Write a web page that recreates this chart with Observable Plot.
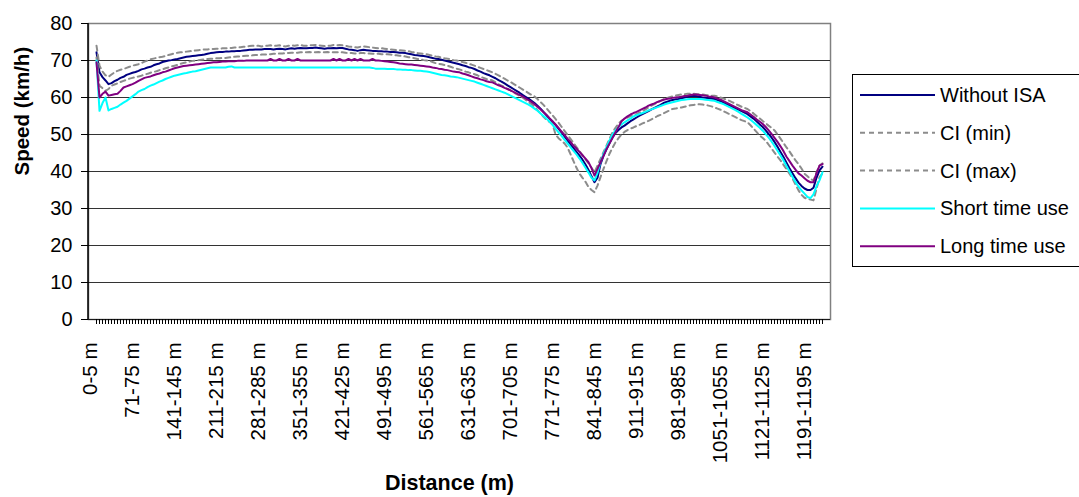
<!DOCTYPE html>
<html><head><meta charset="utf-8">
<script src="https://cdn.jsdelivr.net/npm/d3@7"></script>
<script src="https://cdn.jsdelivr.net/npm/@observablehq/plot@0.6"></script>
<style>
body{margin:0;background:#fff;}
#chart{position:relative;width:1079px;height:497px;overflow:hidden;}
</style></head><body><div id="chart"></div>
<script>
// 5 m distance bins: "0-5 m", "6-10 m", ... (243 bins)
const nBins = 243;
const categories = Array.from({length: nBins}, (_, i) => i === 0 ? "0-5 m" : `${5*i+1}-${5*i+5} m`);
const tickLabels = ["0-5 m","71-75 m","141-145 m","211-215 m","281-285 m","351-355 m","421-425 m","491-495 m","561-565 m","631-635 m","701-705 m","771-775 m","841-845 m","911-915 m","981-985 m","1051-1055 m","1121-1125 m","1191-1195 m"];
const yTicks = [0,10,20,30,40,50,60,70,80];

const withoutISA = [
72.2,66.8,65.5,64.6,63.6,63.9,64.4,64.8,65.3,65.6,
66.1,66.4,66.7,66.9,67.2,67.6,67.8,68.1,68.3,68.7,
69.0,69.2,69.6,69.8,70.0,70.1,70.3,70.4,70.6,70.8,
71.0,71.1,71.2,71.3,71.4,71.5,71.6,71.8,72.0,72.1,
72.2,72.3,72.3,72.4,72.4,72.5,72.5,72.6,72.6,72.7,
72.8,72.9,72.9,73.0,73.0,73.0,73.1,73.1,73.1,73.0,
73.1,73.2,73.1,73.0,73.2,73.3,73.2,73.3,73.4,73.3,
73.3,73.4,73.4,73.5,73.4,73.3,73.2,73.3,73.3,73.4,
73.3,73.4,73.4,73.2,73.0,72.9,72.8,72.6,72.8,72.9,
72.8,72.7,72.6,72.6,72.5,72.5,72.4,72.4,72.3,72.3,
72.2,72.1,72.1,72.0,71.8,71.7,71.5,71.4,71.3,71.2,
71.1,70.9,70.7,70.5,70.4,70.2,70.0,69.8,69.6,69.4,
69.2,69.0,68.7,68.5,68.2,68.0,67.7,67.3,67.0,66.6,
66.3,66.0,65.6,65.2,64.7,64.3,63.8,63.3,62.8,62.3,
61.8,61.3,60.7,60.2,59.7,59.1,58.5,57.8,57.0,56.1,
55.2,54.3,53.5,52.6,51.6,50.6,49.5,48.4,47.3,46.3,
45.3,44.3,43.2,41.9,40.4,38.7,37.1,38.3,42.0,44.2,
46.0,47.6,49.2,50.4,51.2,51.9,52.4,53.0,53.6,54.1,
54.6,55.1,55.5,55.9,56.3,56.8,57.2,57.6,58.0,58.5,
58.8,59.1,59.3,59.5,59.6,59.8,60.0,60.2,60.4,60.5,
60.4,60.2,60.0,59.9,59.8,59.7,59.6,59.3,59.0,58.6,
58.2,57.9,57.5,57.1,56.7,56.3,55.9,55.5,54.9,54.3,
53.6,52.8,52.1,51.2,50.2,49.2,48.0,46.7,45.3,43.9,
42.4,40.9,39.5,38.2,37.0,36.1,35.4,35.0,35.0,35.6,
38.3,40.3,41.3];

const ciMin = [
70.8,63.2,62.5,61.8,62.3,63.2,63.5,63.8,64.2,64.5,
64.8,65.1,65.3,65.5,65.7,65.9,66.2,66.4,66.7,66.9,
67.1,67.4,67.6,67.9,68.1,68.4,68.6,68.8,69.1,69.3,
69.5,69.7,69.9,70.0,70.1,70.2,70.3,70.4,70.5,70.5,
70.6,70.6,70.7,70.7,70.8,70.9,71.0,71.1,71.1,71.2,
71.3,71.3,71.4,71.5,71.5,71.6,71.6,71.7,71.7,71.8,
71.8,71.9,71.9,72.0,72.0,72.1,72.1,72.1,72.2,72.2,
72.2,72.3,72.2,72.2,72.3,72.2,72.2,72.3,72.2,72.2,
72.2,72.3,72.2,72.1,72.0,72.0,71.9,71.9,72.0,72.0,
71.9,71.9,71.8,71.8,71.8,71.7,71.7,71.7,71.6,71.5,
71.4,71.3,71.2,71.1,70.9,70.8,70.6,70.4,70.3,70.1,
70.0,69.9,69.6,69.3,69.1,69.0,68.8,68.6,68.3,68.0,
67.8,67.6,67.3,67.0,66.8,66.5,66.3,66.0,65.6,65.3,
65.0,64.8,64.6,64.1,63.6,63.2,62.8,62.3,61.9,61.4,
60.9,60.5,60.0,59.4,58.8,58.2,57.5,56.6,55.7,54.8,
54.0,53.4,52.9,50.0,49.0,48.3,47.6,46.5,44.7,42.8,
41.0,39.4,38.3,37.2,35.8,35.0,34.4,36.2,38.5,40.7,
42.8,44.8,46.4,47.9,49.0,50.0,50.7,51.2,51.6,51.9,
52.3,52.6,53.0,53.3,53.7,54.1,54.5,55.0,55.3,55.7,
56.1,56.5,56.9,57.0,57.2,57.3,57.5,57.7,57.9,58.0,
58.1,58.2,58.1,58.0,57.8,57.6,57.3,57.0,56.7,56.3,
55.9,55.5,55.1,54.7,54.3,53.9,53.6,53.3,52.5,51.6,
50.7,49.8,49.1,48.4,47.3,46.2,45.1,44.0,43.0,41.8,
40.6,39.4,38.1,36.5,34.9,33.7,32.9,32.6,32.4,32.2,
35.3,38.5,39.5];

const ciMax = [
74.0,68.6,67.0,66.0,65.6,66.2,66.8,67.2,67.5,67.7,
68.0,68.3,68.6,68.8,69.0,69.3,69.7,70.0,70.3,70.5,
70.7,70.9,71.0,71.2,71.5,71.7,71.9,72.1,72.2,72.3,
72.4,72.5,72.6,72.7,72.8,72.9,73.0,73.0,73.1,73.1,
73.2,73.2,73.3,73.3,73.4,73.4,73.5,73.5,73.6,73.7,
73.8,73.9,74.0,73.9,74.0,73.8,73.9,74.0,74.1,73.9,
74.0,74.1,73.9,73.8,74.0,74.1,74.0,74.1,74.2,74.0,
74.0,74.1,74.1,74.2,74.1,74.0,73.9,74.0,74.0,74.2,
74.1,74.2,74.1,74.0,73.8,73.7,73.6,73.5,73.7,73.8,
73.7,73.6,73.5,73.4,73.3,73.3,73.2,73.1,73.0,72.9,
72.8,72.8,72.7,72.6,72.5,72.3,72.2,72.0,71.9,71.8,
71.7,71.5,71.3,71.1,71.0,70.8,70.6,70.5,70.3,70.1,
70.0,69.9,69.6,69.4,69.1,68.9,68.6,68.3,68.0,67.7,
67.4,67.1,66.8,66.4,66.0,65.5,65.1,64.6,64.2,63.7,
63.2,62.7,62.2,61.7,61.2,60.7,60.3,59.6,58.8,58.0,
57.1,56.1,55.2,54.2,53.2,52.1,51.0,49.9,48.8,47.7,
46.6,45.5,44.4,43.3,42.2,41.0,39.8,41.6,43.4,45.2,
47.0,48.8,50.6,51.8,53.0,53.7,54.2,54.6,55.0,55.1,
55.5,55.9,56.3,56.8,57.3,57.8,58.2,58.7,59.1,59.5,
59.8,60.1,60.3,60.5,60.7,60.8,60.9,61.0,61.0,61.0,
60.9,60.9,60.8,60.7,60.6,60.5,60.5,60.3,60.0,59.7,
59.4,59.1,58.7,58.3,57.9,57.5,57.2,56.9,56.3,55.7,
55.0,54.4,53.7,53.1,52.4,51.8,51.1,50.0,48.9,47.7,
46.5,45.4,44.2,43.0,42.0,40.8,39.4,38.7,38.0,37.6,
39.8,41.6,42.2];

const shortTimeUse = [
70.0,56.4,58.5,60.0,56.5,56.9,57.2,57.5,58.1,58.6,
59.1,59.7,60.3,60.9,61.6,62.0,62.3,62.8,63.2,63.5,
63.9,64.3,64.6,65.0,65.3,65.6,65.9,66.1,66.3,66.5,
66.6,66.8,67.0,67.1,67.3,67.5,67.7,67.9,68.1,68.1,
68.1,68.1,68.1,68.1,68.3,68.4,68.1,68.1,68.1,68.1,
68.1,68.1,68.1,68.1,68.1,68.1,68.1,68.1,68.1,68.1,
68.1,68.1,68.1,68.1,68.1,68.1,68.1,68.1,68.1,68.1,
68.1,68.1,68.1,68.1,68.1,68.1,68.1,68.1,68.1,68.1,
68.1,68.1,68.1,68.1,68.1,68.1,68.1,68.1,68.1,68.1,
68.1,68.1,68.0,67.8,67.8,67.8,67.8,67.7,67.7,67.7,
67.6,67.6,67.5,67.5,67.4,67.4,67.3,67.2,67.2,67.1,
67.0,66.9,66.7,66.5,66.3,66.1,66.0,65.9,65.7,65.6,
65.5,65.3,65.1,64.9,64.7,64.5,64.3,64.0,63.7,63.4,
63.1,62.8,62.5,62.2,61.9,61.6,61.3,60.9,60.5,60.1,
59.7,59.3,58.9,58.5,58.1,57.6,57.0,56.4,55.7,55.0,
54.3,53.5,52.6,51.6,50.6,49.6,48.6,47.6,46.6,45.6,
44.6,43.5,42.3,41.0,39.7,38.3,37.6,39.6,42.5,44.8,
46.6,48.4,50.0,51.1,52.0,52.7,53.3,53.8,54.3,54.9,
55.2,55.5,55.8,56.1,56.5,56.8,57.1,57.4,57.7,58.0,
58.3,58.5,58.7,58.9,59.1,59.3,59.4,59.5,59.6,59.6,
59.6,59.6,59.5,59.4,59.3,59.2,59.1,58.8,58.5,58.2,
57.8,57.4,57.0,56.6,56.1,55.6,55.1,54.6,54.0,53.3,
52.6,51.9,51.1,50.2,49.2,48.1,46.9,45.6,44.3,43.0,
41.5,40.0,38.5,37.2,35.9,34.9,34.0,33.1,32.8,33.8,
36.0,37.6,39.8];

const longTimeUse = [
69.5,60.0,61.0,61.6,60.5,60.7,60.9,61.0,61.8,62.7,
63.0,63.3,63.6,64.0,64.5,64.9,65.3,65.5,65.7,66.0,
66.3,66.5,66.8,67.0,67.3,67.6,67.9,68.1,68.3,68.5,
68.6,68.7,68.8,68.9,69.0,69.1,69.2,69.3,69.4,69.5,
69.5,69.6,69.7,69.7,69.8,69.8,69.8,69.9,69.9,69.9,
70.0,70.0,70.0,70.0,70.0,70.0,70.0,70.0,70.4,70.0,
70.0,70.4,70.0,70.0,70.4,70.0,70.0,70.4,70.0,70.0,
70.0,70.0,70.0,70.0,70.0,70.0,70.0,70.0,70.0,70.4,
70.0,70.4,70.0,70.0,70.4,70.0,70.4,70.0,70.4,70.0,
70.0,70.0,70.4,70.0,70.0,69.9,69.8,69.7,69.6,69.5,
69.4,69.2,69.1,69.0,68.9,68.9,68.8,68.7,68.6,68.5,
68.4,68.3,68.1,68.0,67.8,67.7,67.5,67.4,67.2,67.0,
66.9,66.8,66.5,66.3,66.0,65.7,65.4,65.2,64.9,64.7,
64.4,64.2,64.1,63.7,63.3,63.0,62.6,62.3,61.9,61.5,
61.1,60.7,60.3,59.8,59.3,58.8,58.2,57.5,56.8,56.0,
55.3,54.4,53.6,52.7,51.8,50.8,49.9,48.9,48.0,47.0,
46.2,45.3,44.4,43.5,42.5,40.9,38.9,40.7,42.5,44.3,
46.1,47.6,49.1,50.6,52.0,53.6,54.3,54.9,55.4,55.8,
56.1,56.5,56.9,57.3,57.8,58.1,58.4,58.8,59.1,59.4,
59.6,59.7,59.9,60.0,60.1,60.2,60.4,60.5,60.7,60.8,
60.8,60.7,60.6,60.5,60.3,60.2,60.0,59.7,59.4,59.0,
58.6,58.2,57.8,57.4,57.0,56.6,56.3,56.0,55.4,54.8,
54.1,53.5,52.9,52.1,51.2,50.2,49.1,48.0,46.8,45.5,
44.0,42.8,41.6,40.5,39.5,38.9,38.2,37.5,37.1,37.1,
39.5,41.6,42.0];

const seriesNames = ["Without ISA", "CI (min)", "CI (max)", "Short time use", "Long time use"];
const seriesValues = [withoutISA, ciMin, ciMax, shortTimeUse, longTimeUse];
const seriesColors = ["#000080", "#8c8c8c", "#8c8c8c", "#00FFFF", "#800080"];
const seriesDash = [null, "5,4", "5,4", null, null];

const font = "'Liberation Sans', Arial, sans-serif";

const lineMarks = seriesNames.map((name, s) =>
  Plot.line(seriesValues[s].map((v, i) => ({cat: categories[i], value: v})), {
    x: "cat", y: "value", stroke: seriesColors[s], strokeWidth: 2,
    strokeDasharray: seriesDash[s] ?? undefined, strokeLinejoin: "round"
  })
);

const plot = Plot.plot({
  width: 1079, height: 497,
  marginLeft: 88, marginRight: 249, marginTop: 23, marginBottom: 178,
  style: {fontFamily: font, fontSize: "20px", background: "#fff", color: "#000", overflow: "visible"},
  x: {type: "point", domain: categories, padding: 0.5},
  y: {domain: [0, 80]},
  marks: [
    Plot.frame({stroke: "#808080", strokeWidth: 1.5}),
    Plot.gridY(yTicks.filter(d => d < 80), {stroke: "#000", strokeOpacity: 0.8, strokeWidth: 1}),
    Plot.axisY({ticks: yTicks, tickSize: 7, tickPadding: 9, label: null, fontSize: 20}),
    // dense category tick marks
    Plot.axisX({ticks: categories, tickSize: 5, tickFormat: () => "", label: null}),
    // labels every 14th category
    Plot.axisX({ticks: tickLabels, tickSize: 0, tickPadding: 23, tickRotate: -90, label: null, fontSize: 20.5, dx: -6}),
    ...lineMarks,
    Plot.text(["Speed (km/h)"], {frameAnchor: "left", dx: -66, dy: 4, rotate: -90, fontWeight: "bold", fontSize: 20.5}),
    Plot.text(["Distance (m)"], {frameAnchor: "bottom", dx: -10, dy: 170, fontWeight: "bold", fontSize: 21.5})
  ]
});

document.getElementById("chart").appendChild(plot);

const svg = d3.select(plot);
const xr = plot.scale("x").range;
const yr = plot.scale("y").range;
// y axis line
svg.append("line").attr("x1", xr[0]).attr("x2", xr[0])
  .attr("y1", yr[0]).attr("y2", yr[1]).attr("stroke", "#000").attr("stroke-width", 1.5);

// legend
const lg = svg.append("g").attr("font-family", font).attr("font-size", 20).attr("text-anchor", "start");
lg.append("rect").attr("x", 852.5).attr("y", 74.5).attr("width", 260).attr("height", 192)
  .attr("fill", "#fff").attr("stroke", "#000").attr("stroke-width", 1);
seriesNames.forEach((name, s) => {
  const y = 95 + s * 37.8;
  lg.append("line").attr("x1", 860).attr("x2", 935).attr("y1", y).attr("y2", y)
    .attr("stroke", seriesColors[s]).attr("stroke-width", 2)
    .attr("stroke-dasharray", seriesDash[s]);
  lg.append("text").attr("x", 940).attr("y", y).attr("dy", "0.35em").attr("text-anchor", "start").text(name);
});
</script></body></html>
